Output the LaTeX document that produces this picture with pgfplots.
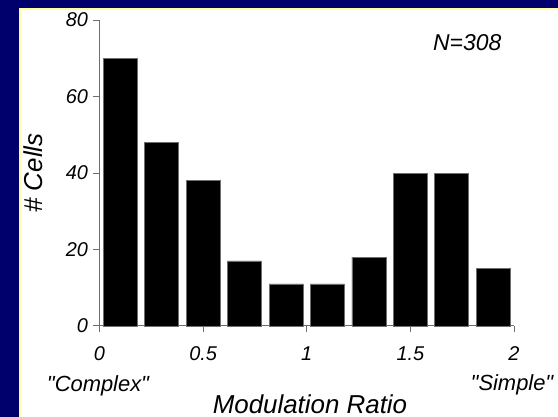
\documentclass[border=0pt]{standalone}
\usepackage{fontspec}
\setmainfont{Liberation Sans}[Ligatures=TeXOff]
\usepackage{pgfplots}
\pgfplotsset{compat=1.18}
\definecolor{navy}{RGB}{0,0,108}
\definecolor{paleyellow}{RGB}{255,255,160}
\definecolor{axgray}{RGB}{110,110,110}
\begin{document}
\begin{tikzpicture}
\useasboundingbox (0,0) rectangle (558bp,417bp);
\fill[navy] (0,0) rectangle (558bp,417bp);
\fill[white] (20bp,0) rectangle (558bp,408bp);
\draw[paleyellow, line width=2bp] (20bp,0) -- (20bp,408bp) -- (558bp,408bp);
\begin{axis}[
  at={(99.5bp,91bp)}, anchor=south west,
  scale only axis, width=414.5bp, height=306bp,
  xmin=0, xmax=2, ymin=0, ymax=80,
  axis lines=left, axis line style={-, axgray, line width=1bp},
  xtick={0,0.5,1,1.5,2}, xticklabels={0,0.5,1,1.5,2},
  ytick={0,20,40,60,80},
  tick align=outside, major tick length=6bp,
  tick style={axgray, line width=1bp},
  ticklabel style={font=\fontsize{20}{24}\selectfont\itshape},
  xticklabel style={yshift=-11bp},
  yticklabel style={xshift=-2bp},
  /pgf/number format/assume math mode=true,
  ybar, bar width=0.164,
  clip=false,
]
\addplot[fill=black, draw=axgray, line width=0.8bp] coordinates {
  (0.1,70) (0.3,48) (0.5,38) (0.7,17) (0.9,11)
  (1.1,11) (1.3,18) (1.5,40) (1.7,40) (1.9,15)
};
\end{axis}
\node[font=\fontsize{26}{30}\selectfont\itshape, anchor=base] at (310bp,4bp) {Modulation Ratio};
\node[font=\fontsize{26}{30}\selectfont\itshape, rotate=90, anchor=center] at (33bp,244bp) {\# Cells};
\node[font=\fontsize{22}{26}\selectfont\itshape, anchor=base] at (98bp,26bp) {"Complex"};
\node[font=\fontsize{22}{26}\selectfont\itshape, anchor=base] at (512bp,27bp) {"Simple"};
\node[font=\fontsize{23}{27}\selectfont\itshape, anchor=base west, inner sep=0pt] at (433bp,366bp) {N=308};
\end{tikzpicture}
\end{document}
